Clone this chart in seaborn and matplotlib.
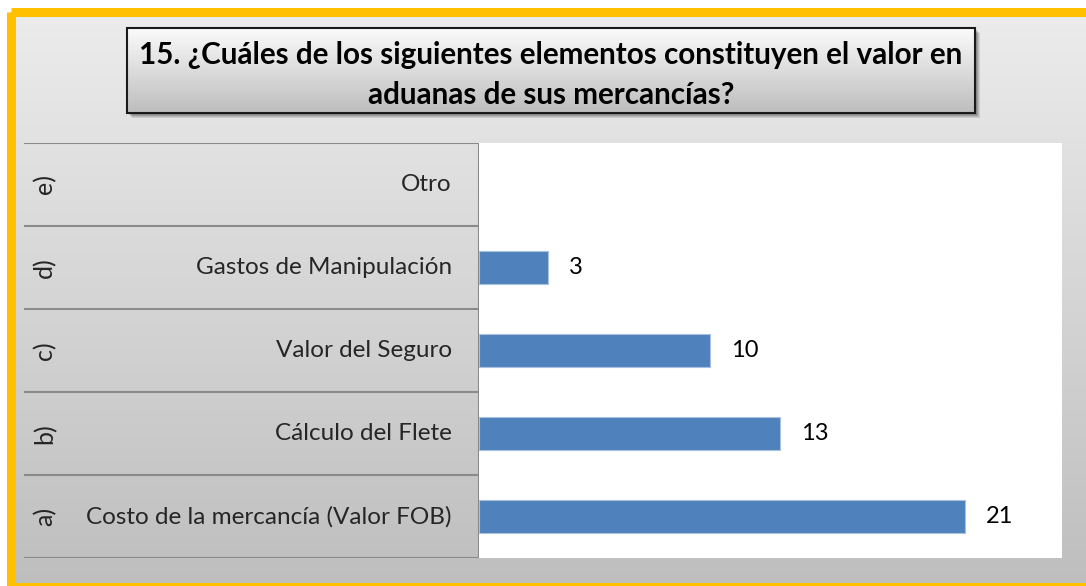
import numpy as np
import pandas as pd
import matplotlib
matplotlib.use("Agg")
import matplotlib.pyplot as plt
from matplotlib.patches import Rectangle
import seaborn as sb

# chart data (top row first)
letters = ["e)", "d)", "c)", "b)", "a)"]
categories = ["Otro", "Gastos de Manipulación", "Valor del Seguro",
              "Cálculo del Flete", "Costo de la mercancía (Valor FOB)"]
counts = [0, 3, 10, 13, 21]
title = "15. ¿Cuáles de los siguientes elementos constituyen el valor en\naduanas de sus mercancías?"

sb.set_style("white")
plt.rcParams['font.family'] = ['Lato', 'DejaVu Sans']

W, H = 1086, 586
fig = plt.figure(figsize=(W / 100, H / 100), dpi=100)


def box(x0, y0, x1, y1):
    # pixel box (top-left origin) -> figure fraction rect
    return [x0 / W, 1 - y1 / H, (x1 - x0) / W, (y1 - y0) / H]


def vgrad(top, bottom, n=256):
    t = np.linspace(0, 1, n)[:, None, None]
    a = np.array(matplotlib.colors.to_rgb(top))
    b = np.array(matplotlib.colors.to_rgb(bottom))
    return a + (b - a) * t


# background layer in pixel coords
bg = fig.add_axes([0, 0, 1, 1])
bg.set_xlim(0, W)
bg.set_ylim(H, 0)
bg.axis('off')
bg.imshow(vgrad('#ECECEC', '#BEBEBE'), extent=[10, W + 10, 587, 12], aspect='auto', zorder=0)
bg.add_patch(Rectangle((10.5, 12), W + 20, 575, fill=False, edgecolor='#FFC000', linewidth=6.5, zorder=5))

# title box with shadow
for k, a in enumerate([0.10, 0.10, 0.12, 0.15]):
    off = 5 - k
    bg.add_patch(Rectangle((127 + off, 28 + off), 848, 85, facecolor='black', alpha=a,
                           edgecolor='none', zorder=1))
bg.imshow(vgrad('#FBFBFB', '#BDBDBD'), extent=[127, 975, 113, 28], aspect='auto', zorder=2)
bg.add_patch(Rectangle((127, 28), 848, 85, fill=False, edgecolor='#1A1A1A', linewidth=1.5, zorder=3))
bg.text(551, 75, title, ha='center', va='center', multialignment='center', fontsize=21.3,
        fontweight='bold', linespacing=1.5, color='black', zorder=4)

# plot area with bars
ax = fig.add_axes(box(479, 143, 1062, 558))
ax.set_facecolor('white')
df = pd.DataFrame({'cat': categories, 'n': counts})
sb.barplot(data=df, x='n', y='cat', order=categories, orient='h', color='#4F81BD',
           width=0.4, edgecolor='#A9C1DF', linewidth=0.8, saturation=1, ax=ax)
for p, v in zip(ax.containers[0], counts):
    if v == 0:
        p.set_visible(False)
ax.set_xlim(0, 25.2)
ax.set_ylim(4.5, -0.5)
ax.set_xticks([])
ax.set_yticks([])
ax.set_xlabel('')
ax.set_ylabel('')
for s in ax.spines.values():
    s.set_visible(False)
ax.bar_label(ax.containers[0], labels=[str(v) if v else '' for v in counts],
             padding=15, fontsize=17, color='black')

# category table on the left
tab = fig.add_axes(box(24, 143, 479, 558))
tab.set_xlim(0, 1)
tab.set_ylim(4.5, -0.5)
tab.patch.set_alpha(0)
tab.axis('off')
for i in range(len(categories) + 1):
    tab.axhline(i - 0.5, color='#8A8A8A', linewidth=1.5)
tab.axvline(1, color='#8A8A8A', linewidth=1.5)
for i, (lt, cat) in enumerate(zip(letters, categories)):
    tab.text(21 / 455, i, lt, rotation=90, ha='center', va='center', fontsize=18)
    tab.text(428 / 455, i, cat, ha='right', va='center', fontsize=17.5)

fig.savefig('out.png', dpi=100)
